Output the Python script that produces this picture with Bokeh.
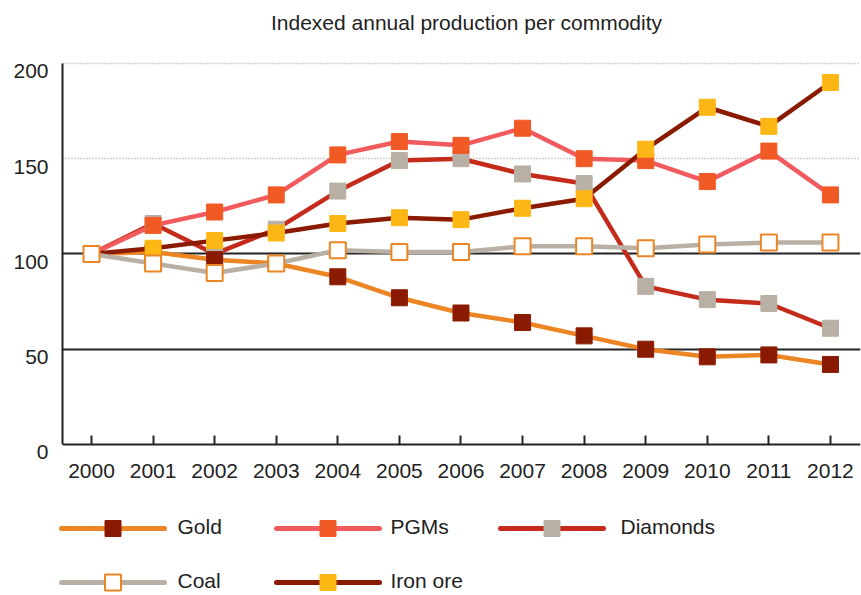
from bokeh.plotting import figure
from bokeh.models import Range1d, FixedTicker, Grid, LinearAxis
from bokeh.layouts import column
from bokeh.embed import file_html
from bokeh.resources import INLINE
from bokeh.core.properties import value

# ---------------- data ----------------
years = list(range(2000, 2013))
gold = [100, 101, 97, 95, 88, 77, 69, 64, 57, 50, 46, 47, 42]
pgms = [100, 115, 122, 131, 152, 159, 157, 166, 150, 149, 138, 154, 131]
diamonds = [100, 116, 100, 113, 133, 149, 150, 142, 137, 83, 76, 74, 61]
coal = [100, 95, 90, 95, 102, 101, 101, 104, 104, 103, 105, 106, 106]
iron_ore = [100, 103, 107, 111, 116, 119, 118, 124, 129, 155, 177, 167, 190]
y_ticks = [0, 50, 100, 150, 200]
dotted_levels = [150, 200]
solid_levels = [50, 100]
title_text = "Indexed annual production per commodity"

# ---------------- styles ----------------
FONT = "Liberation Sans"
TXT = "#222222"
ORANGE = "#EC8524"
DARK = "#8A1B00"
styles = {
    "Gold":     dict(line=ORANGE,    fill=DARK,      edge=DARK,    lw_edge=1),
    "PGMs":     dict(line="#F15B5E", fill="#F15A24", edge="#F15A24", lw_edge=1),
    "Diamonds": dict(line="#C42B1B", fill="#B9B0A5", edge="#B9B0A5", lw_edge=1),
    "Coal":     dict(line="#B9B0A5", fill="#FFFFFF", edge=ORANGE,  lw_edge=2),
    "Iron ore": dict(line=DARK,      fill="#FDB714", edge="#FDB714", lw_edge=1),
}
series = {"Gold": gold, "PGMs": pgms, "Diamonds": diamonds, "Coal": coal, "Iron ore": iron_ore}
draw_order = ["Diamonds", "PGMs", "Gold", "Iron ore", "Coal"]
legend_order = [["Gold", "PGMs", "Diamonds"], ["Coal", "Iron ore"]]

W = 861
LABEL_SHIFT = 4.2  # y-tick labels sit slightly below their lines (in data units)

# ---------------- title figure ----------------
t_h = 48
tf = figure(width=W, height=t_h, x_range=Range1d(0, W),
            y_range=Range1d(t_h, 0), toolbar_location=None,
            output_backend="svg", x_axis_location=None, y_axis_location=None,
            min_border=0, outline_line_color=None, frame_align=False)
for g in tf.grid:
    g.visible = False
tf.text(x=[466], y=[22], text=[title_text], text_font=value(FONT),
        text_font_size="21px", text_color=TXT, text_align="center",
        text_baseline="middle")

# ---------------- main figure ----------------
m_h = 447
y0, y1 = -4.75, 200.5
p = figure(width=W, height=m_h,
           x_range=Range1d(1999.529, 2012.488), y_range=Range1d(y0, y1),
           toolbar_location=None, output_backend="svg",
           min_border_left=62, min_border_right=1,
           min_border_top=14, min_border_bottom=42, outline_line_color=None)
p.extra_y_ranges = {"lab": Range1d(y0 + LABEL_SHIFT, y1 + LABEL_SHIFT)}
for g in p.grid:
    g.visible = False

# y axis line only (from 0 to 200)
yline = p.yaxis[0]
yline.ticker = FixedTicker(ticks=[])
yline.bounds = (min(y_ticks), max(y_ticks))
yline.axis_line_width = 2
yline.axis_line_color = TXT
yline.major_tick_in = 0
yline.major_tick_out = 0
yline.minor_tick_line_color = None
yline.major_label_standoff = 0

# y tick labels only
yax = LinearAxis(y_range_name="lab", ticker=FixedTicker(ticks=y_ticks))
yax.axis_line_color = None
yax.major_tick_line_color = None
yax.minor_tick_line_color = None
yax.major_label_text_font = FONT
yax.major_label_text_font_size = "21px"
yax.major_label_text_color = TXT
yax.major_label_standoff = 8
p.add_layout(yax, "left")

# x axis line + ticks at y = 0
xax = p.xaxis[0]
xax.ticker = FixedTicker(ticks=years)
xax.fixed_location = 0
xax.axis_line_width = 2
xax.axis_line_color = TXT
xax.major_tick_in = 9
xax.major_tick_out = 0
xax.major_tick_line_width = 2
xax.major_tick_line_color = TXT
xax.minor_tick_line_color = None
xax.major_label_text_font_size = "0px"
xax.major_label_text_color = None
xax.major_label_standoff = 0

# x tick labels
xlab = LinearAxis(ticker=FixedTicker(ticks=years))
xlab.axis_line_color = None
xlab.major_tick_line_color = None
xlab.minor_tick_line_color = None
xlab.major_label_text_font = FONT
xlab.major_label_text_font_size = "21px"
xlab.major_label_text_color = TXT
xlab.major_label_standoff = 4
p.add_layout(xlab, "below")

p.add_layout(Grid(dimension=1, ticker=FixedTicker(ticks=dotted_levels),
                  grid_line_color="#ADA59C", grid_line_width=1.5,
                  grid_line_dash="1 2"))
p.add_layout(Grid(dimension=1, ticker=FixedTicker(ticks=solid_levels),
                  grid_line_color="#222222", grid_line_width=2))

for name in draw_order:
    s = styles[name]
    p.line(years, series[name], line_color=s["line"], line_width=4.5)
for name in draw_order:
    s = styles[name]
    p.scatter(years, series[name], marker="square", size=16,
              fill_color=s["fill"], line_color=s["edge"], line_width=s["lw_edge"])

# ---------------- legend figure ----------------
l_h = 99
top = t_h + m_h
lf = figure(width=W, height=l_h, x_range=Range1d(0, W),
            y_range=Range1d(top + l_h, top), toolbar_location=None,
            output_backend="svg", x_axis_location=None, y_axis_location=None,
            min_border=0, outline_line_color=None, frame_align=False)
for g in lf.grid:
    g.visible = False

col_x = [61, 276, 500]
text_x = [177, 390, 620]
row_y = [528, 582]
seg = 103
for r, names in enumerate(legend_order):
    for c, name in enumerate(names):
        s = styles[name]
        x0 = col_x[c]
        yy = row_y[r]
        lf.line([x0, x0 + seg], [yy, yy], line_color=s["line"], line_width=5,
                line_cap="round")
        lf.scatter([x0 + seg / 2], [yy], marker="square", size=16,
                   fill_color=s["fill"], line_color=s["edge"], line_width=s["lw_edge"])
        lf.text(x=[text_x[c]], y=[yy - 2], text=[name], text_font=value(FONT),
                text_font_size="21px", text_color=TXT, text_baseline="middle")

layout = column(tf, p, lf, spacing=0)
open("out.html", "w").write(file_html(layout, INLINE))
